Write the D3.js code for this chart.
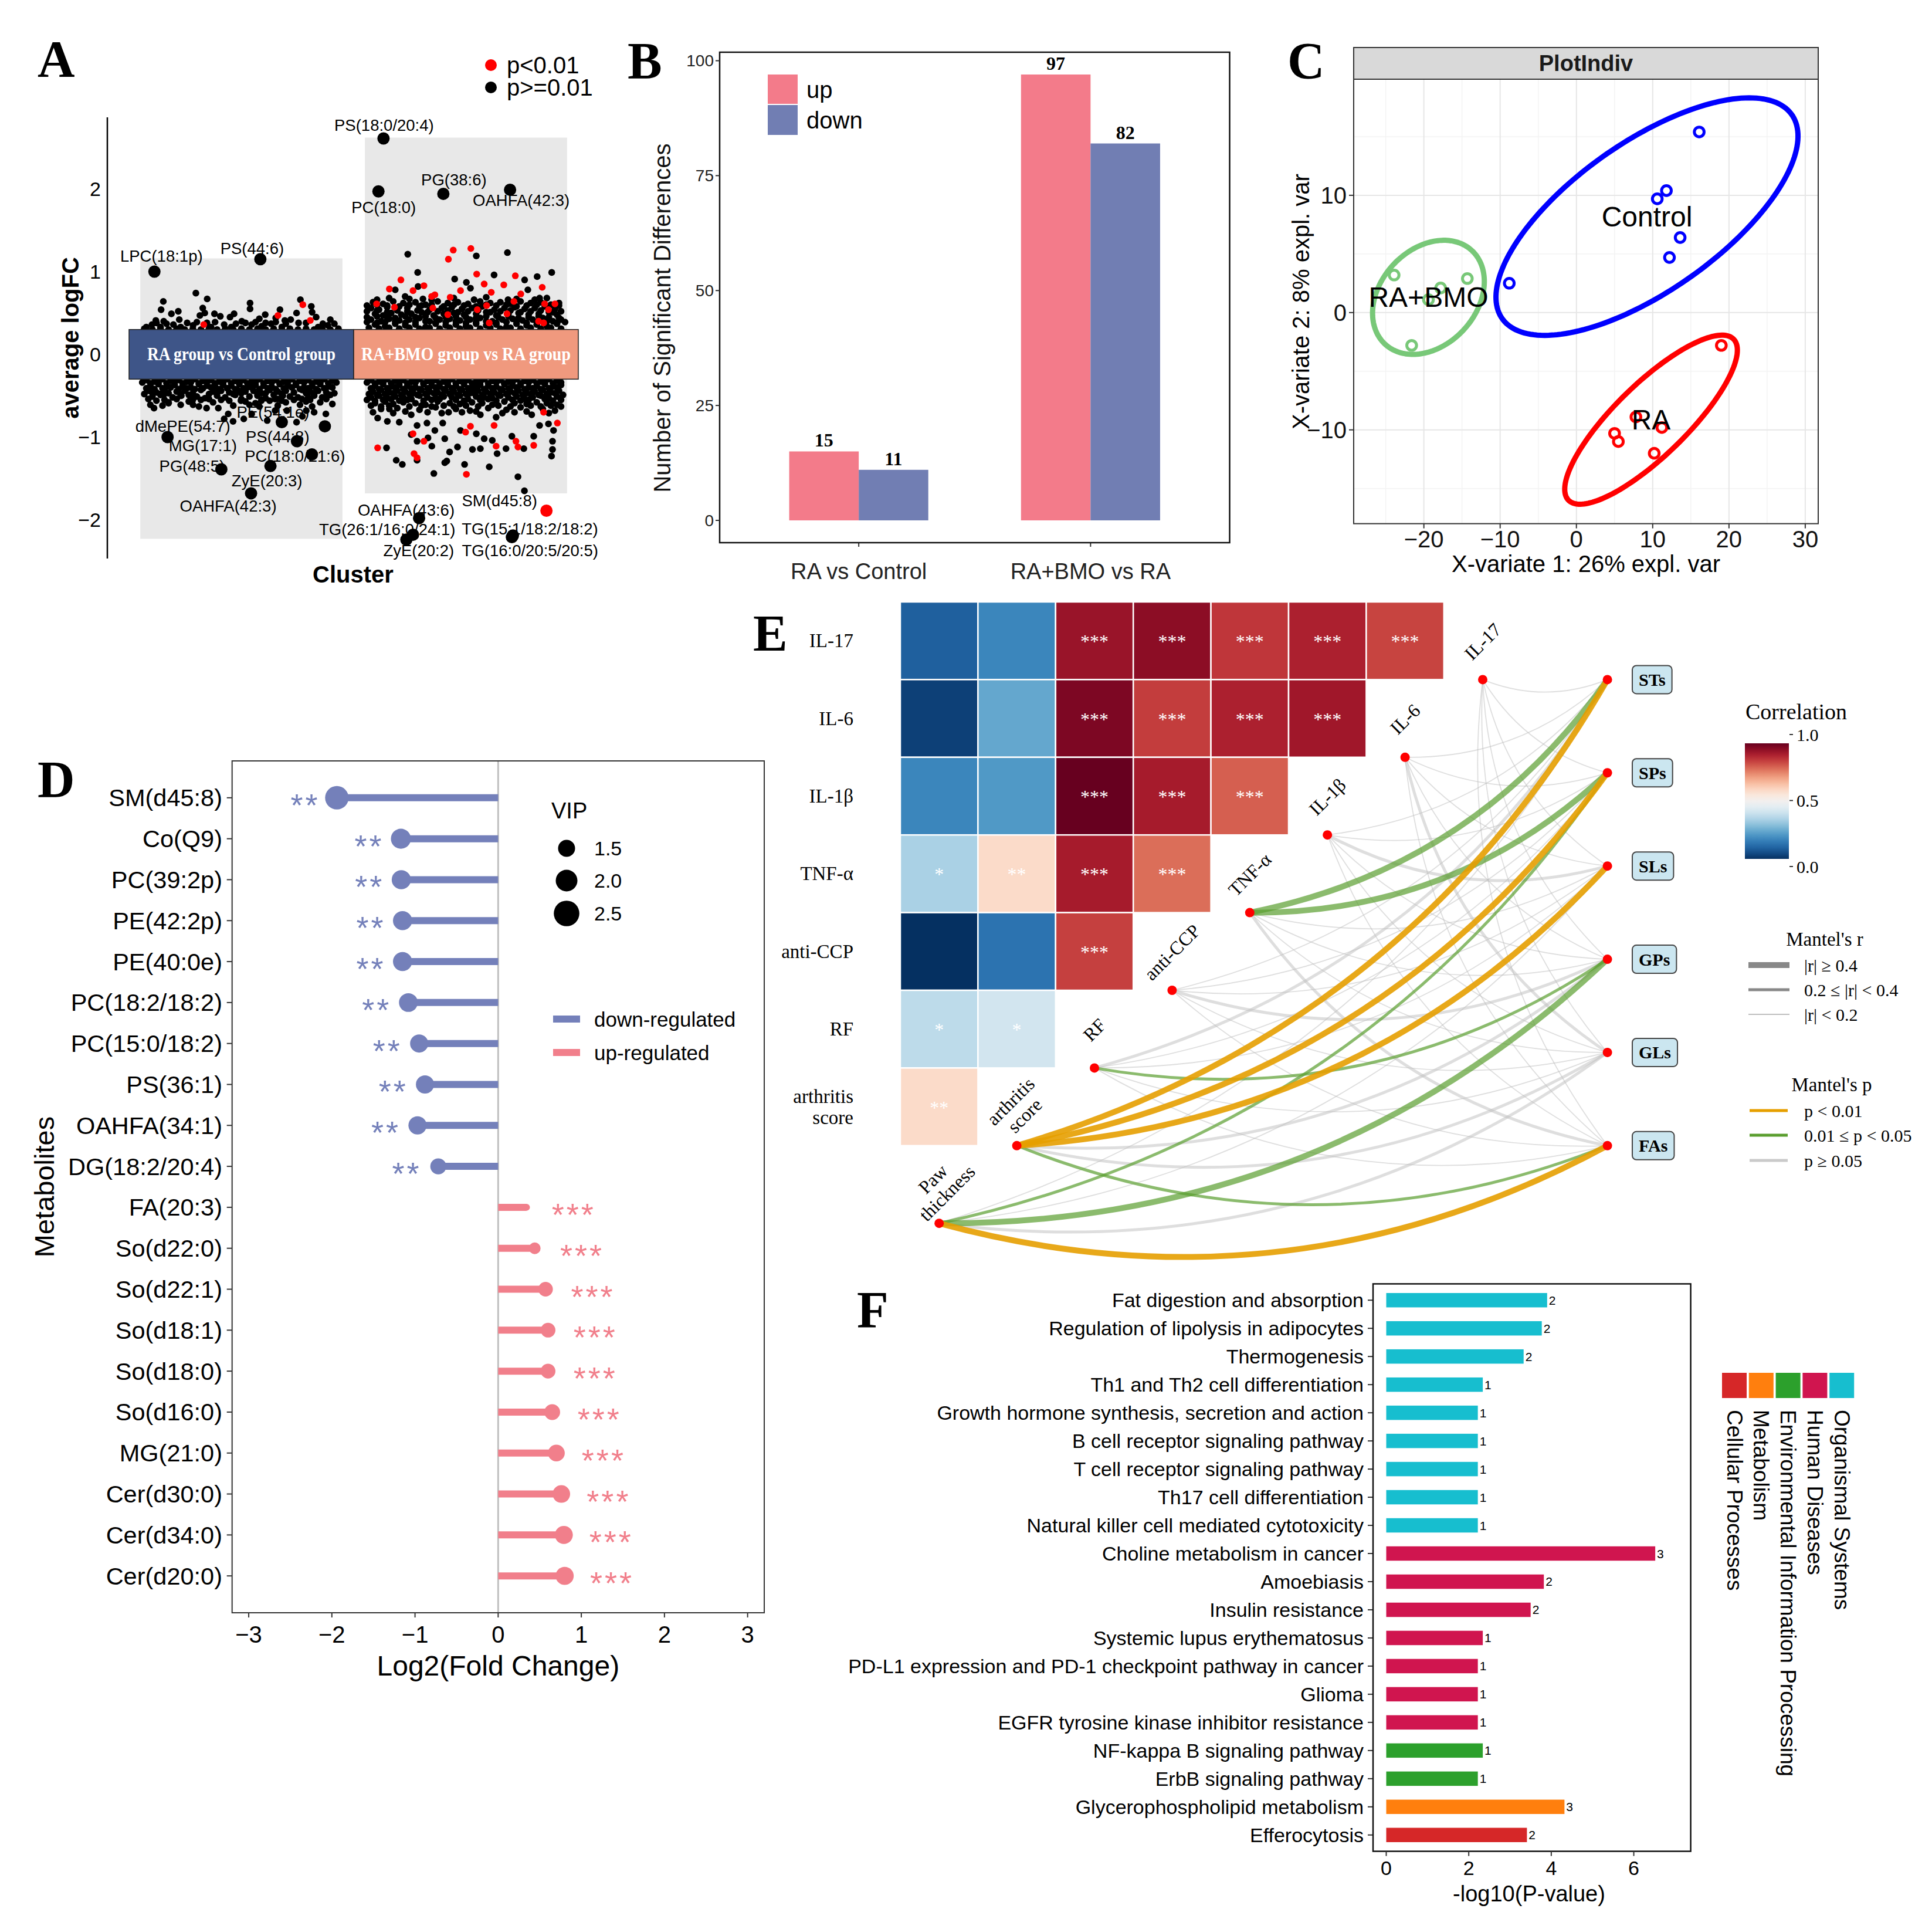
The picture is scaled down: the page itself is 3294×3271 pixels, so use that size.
<!DOCTYPE html>
<html><head><meta charset="utf-8">
<script src="https://cdn.jsdelivr.net/npm/d3@7"></script>
<style>body{margin:0;background:#fff}svg{display:block}</style>
</head><body>
<svg id="fig" width="3294" height="3271"></svg>
<script>
// ===================== DATA =====================
// Panel A
const clusters = ["RA group vs Control group", "RA+BMO group vs RA group"];
const bgTop = [1.16, 2.62];
const bgBottom = [-2.23, -1.68];
// [pct-within-cluster, logFC] pairs
const leftBlack = [27.5,0.74,33.1,0.67,11.4,0.64,10.3,0.54,15.4,0.49,18.8,0.52,19.3,0.42,7.7,0.41,11.6,0.40,30.9,0.56,29.5,0.47,31.9,0.50,36.7,0.49,39.6,0.46,44.4,0.45,46.4,0.49,54.3,0.62,54.3,0.55,58.9,0.43,61.8,0.48,69.1,0.54,71.5,0.41,77.3,0.50,79.2,0.66,84.6,0.58,85.0,0.51,87.0,0.45,90.3,0.37,23.2,0.38,50.2,0.40,47.3,0.37,74.4,0.42,78.3,0.38,64.7,0.37,41.5,0.36,55.1,0.36,5.8,0.36,16.4,0.36,26.1,0.35,92.8,0.35,10,0.33,35,0.33,60,0.34,70,0.33,88,0.33,20,0.33,45,0.33,67,0.44,94,0.42,3,0.33,
2,0.31,6,0.30,10,0.31,14,0.30,18,0.31,22,0.30,26,0.31,30,0.30,34,0.31,38,0.30,42,0.31,46,0.30,50,0.31,54,0.30,58,0.31,62,0.30,66,0.31,70,0.30,74,0.31,78,0.30,82,0.31,86,0.30,90,0.31,94,0.30,98,0.31,
8,0.38,13,0.37,28,0.39,33,0.38,37,0.39,52,0.38,57,0.39,62,0.38,67,0.39,72,0.37,82,0.38,96,0.37,
3,-0.31,7,-0.33,11,-0.30,15,-0.32,19,-0.31,23,-0.33,27,-0.30,31,-0.32,35,-0.31,39,-0.33,43,-0.30,47,-0.32,51,-0.31,55,-0.33,59,-0.30,63,-0.32,67,-0.31,71,-0.33,75,-0.30,79,-0.32,83,-0.31,87,-0.33,91,-0.30,95,-0.32,
1,-0.34,5,-0.35,9,-0.34,13,-0.35,17,-0.34,21,-0.35,25,-0.34,29,-0.35,33,-0.34,37,-0.35,41,-0.34,45,-0.35,49,-0.34,53,-0.35,57,-0.34,61,-0.35,65,-0.34,69,-0.35,73,-0.34,77,-0.35,81,-0.34,85,-0.35,89,-0.34,93,-0.35,97,-0.34,
5,-0.38,9,-0.36,13,-0.39,17,-0.37,21,-0.38,25,-0.40,29,-0.36,33,-0.38,37,-0.39,41,-0.37,45,-0.38,49,-0.36,53,-0.40,57,-0.37,61,-0.38,65,-0.39,69,-0.36,73,-0.38,77,-0.37,81,-0.40,85,-0.38,89,-0.36,93,-0.39,
3,-0.41,7,-0.42,11,-0.41,15,-0.40,19,-0.42,23,-0.41,27,-0.42,31,-0.41,35,-0.40,39,-0.42,43,-0.41,47,-0.42,51,-0.41,55,-0.40,59,-0.42,63,-0.41,67,-0.42,71,-0.41,75,-0.40,79,-0.42,83,-0.41,87,-0.42,91,-0.41,95,-0.40,
4,-0.44,8,-0.46,12,-0.43,18,-0.45,22,-0.44,26,-0.47,30,-0.43,36,-0.45,40,-0.44,44,-0.46,48,-0.43,52,-0.45,56,-0.44,60,-0.47,64,-0.43,68,-0.45,72,-0.44,76,-0.46,80,-0.43,84,-0.45,88,-0.44,92,-0.46,
2,-0.48,6,-0.47,10,-0.48,14,-0.47,20,-0.48,24,-0.49,34,-0.48,38,-0.47,46,-0.48,50,-0.47,58,-0.48,62,-0.47,70,-0.48,82,-0.47,86,-0.48,96,-0.47,
6,-0.51,10,-0.49,16,-0.52,20,-0.50,28,-0.51,32,-0.53,38,-0.50,42,-0.52,47,-0.49,54,-0.51,58,-0.50,62,-0.53,66,-0.49,74,-0.51,78,-0.52,86,-0.50,90,-0.52,94,-0.49,
4,-0.54,12,-0.55,18,-0.54,26,-0.55,34,-0.54,40,-0.55,50,-0.54,60,-0.55,68,-0.54,70,-0.56,80,-0.54,84,-0.55,92,-0.54,
8,-0.56,14,-0.58,24,-0.57,30,-0.55,36,-0.58,44,-0.56,52,-0.57,57,-0.59,64,-0.56,72,-0.58,76,-0.55,82,-0.57,89,-0.58,
5,-0.61,11,-0.62,20,-0.61,29,-0.63,46,-0.62,54,-0.61,68,-0.62,79,-0.61,85,-0.63,95,-0.60,
6.8,-0.65,14.0,-0.59,20.3,-0.50,25.1,-0.53,26.1,-0.61,32.8,-0.65,38.6,-0.65,43.5,-0.72,41.5,-0.78,45.9,-0.81,51.2,-0.78,55.1,-0.72,58.9,-0.63,62.8,-0.80,66.7,-0.68,72.5,-0.68,77.3,-0.82,80.2,-0.75,82.1,-0.68,86.0,-0.70,91.8,-0.72,92.8,-0.50,83.1,-0.52,70.5,-0.50,49.8,-0.56,11.6,-0.49,59.9,-0.56,66.7,-0.54];
const leftRed = [68.1,0.47,80.4,0.60,84.1,0.41,31.4,0.36];
const rightBlack = [21.2,1.21,55.1,1.19,70.5,1.23,26.1,0.99,92.4,0.99,63.9,0.96,85.2,0.94,44.4,0.91,79.0,0.90,50.2,0.87,52.2,0.80,26.3,0.82,80.6,0.78,15.0,0.78,19.9,0.70,28.7,0.67,86.4,0.68,70.8,0.66,
6,0.66,12,0.68,22,0.67,33,0.66,44,0.68,54,0.66,60,0.69,75,0.67,84,0.66,90,0.68,
4,0.63,9,0.61,14,0.64,19,0.62,25,0.63,30,0.60,36,0.64,41,0.62,46,0.63,51,0.61,57,0.64,62,0.62,67,0.63,72,0.61,77,0.64,82,0.62,87,0.63,92,0.60,96,0.62,
1,0.59,6,0.60,11,0.59,17,0.58,22,0.60,28,0.59,33,0.60,39,0.58,44,0.60,49,0.59,55,0.58,60,0.60,65,0.59,70,0.60,75,0.58,80,0.59,85,0.60,90,0.58,96,0.59,
3,0.56,7,0.54,11,0.57,16,0.55,21,0.56,27,0.58,32,0.54,38,0.56,43,0.57,48,0.55,53,0.56,58,0.58,64,0.54,69,0.56,74,0.57,79,0.55,84,0.56,89,0.58,94,0.55,
1,0.52,6,0.53,11,0.51,16,0.53,21,0.52,26,0.53,31,0.51,36,0.52,41,0.53,46,0.51,51,0.52,56,0.53,62,0.51,67,0.52,72,0.53,77,0.51,82,0.52,87,0.53,93,0.51,97,0.52,
5,0.49,9,0.47,13,0.50,18,0.48,23,0.49,28,0.51,34,0.47,39,0.49,44,0.50,49,0.48,55,0.49,60,0.51,65,0.47,71,0.49,76,0.50,81,0.48,86,0.49,91,0.51,95,0.48,
1,0.45,6,0.46,11,0.45,15,0.44,20,0.46,25,0.45,30,0.46,35,0.44,40,0.45,45,0.46,50,0.45,55,0.44,60,0.46,66,0.45,71,0.46,76,0.44,81,0.45,86,0.46,91,0.45,96,0.44,
3,0.42,8,0.40,12,0.43,17,0.41,22,0.42,27,0.44,32,0.40,37,0.42,42,0.43,47,0.41,52,0.42,57,0.44,63,0.40,68,0.42,73,0.43,78,0.41,83,0.42,88,0.44,93,0.40,97,0.42,
1,0.39,6,0.38,10,0.39,15,0.40,20,0.38,25,0.39,30,0.40,35,0.38,40,0.39,45,0.40,50,0.38,55,0.39,60,0.40,65,0.38,70,0.39,75,0.40,80,0.38,85,0.39,90,0.40,95,0.38,99,0.39,
5,0.36,10,0.34,15,0.37,20,0.35,25,0.36,30,0.33,35,0.37,40,0.35,45,0.36,50,0.34,55,0.37,60,0.35,65,0.36,70,0.33,75,0.37,80,0.35,85,0.36,90,0.34,95,0.37,
2,0.32,7,0.31,12,0.32,17,0.31,22,0.32,27,0.31,32,0.32,37,0.31,42,0.32,47,0.31,52,0.32,57,0.31,62,0.32,67,0.31,72,0.32,77,0.31,82,0.32,87,0.31,92,0.32,97,0.31,
3,-0.31,7,-0.33,11,-0.30,15,-0.32,19,-0.31,23,-0.33,27,-0.30,31,-0.32,35,-0.31,39,-0.33,43,-0.30,47,-0.32,51,-0.31,55,-0.33,59,-0.30,63,-0.32,67,-0.31,71,-0.33,75,-0.30,79,-0.32,83,-0.31,87,-0.33,91,-0.30,95,-0.32,
1,-0.34,5,-0.35,9,-0.34,13,-0.35,17,-0.34,21,-0.35,25,-0.34,29,-0.35,33,-0.34,37,-0.35,41,-0.34,45,-0.35,49,-0.34,53,-0.35,57,-0.34,61,-0.35,65,-0.34,69,-0.35,73,-0.34,77,-0.35,81,-0.34,85,-0.35,89,-0.34,93,-0.35,97,-0.34,
5,-0.38,9,-0.36,13,-0.39,17,-0.37,21,-0.38,25,-0.40,29,-0.36,33,-0.38,37,-0.39,41,-0.37,45,-0.38,49,-0.36,53,-0.40,57,-0.37,61,-0.38,65,-0.39,69,-0.36,73,-0.38,77,-0.37,81,-0.40,85,-0.38,89,-0.36,93,-0.39,97,-0.37,
3,-0.41,7,-0.42,11,-0.41,15,-0.40,19,-0.42,23,-0.41,27,-0.42,31,-0.41,35,-0.40,39,-0.42,43,-0.41,47,-0.42,51,-0.41,55,-0.40,59,-0.42,63,-0.41,67,-0.42,71,-0.41,75,-0.40,79,-0.42,83,-0.41,87,-0.42,91,-0.41,95,-0.40,
4,-0.45,8,-0.43,12,-0.46,16,-0.44,20,-0.45,24,-0.47,28,-0.43,32,-0.45,36,-0.46,40,-0.44,44,-0.45,48,-0.43,52,-0.47,56,-0.44,60,-0.45,64,-0.46,68,-0.43,72,-0.45,76,-0.44,80,-0.47,84,-0.45,88,-0.43,92,-0.46,96,-0.44,
2,-0.48,6,-0.49,10,-0.48,14,-0.47,18,-0.49,22,-0.48,26,-0.49,30,-0.48,34,-0.47,38,-0.49,42,-0.48,46,-0.49,50,-0.48,54,-0.47,58,-0.49,62,-0.48,66,-0.49,70,-0.48,74,-0.47,78,-0.49,82,-0.48,86,-0.49,90,-0.48,94,-0.47,98,-0.49,
3,-0.52,7,-0.50,11,-0.53,15,-0.51,19,-0.52,23,-0.54,27,-0.50,31,-0.52,35,-0.53,39,-0.51,43,-0.52,47,-0.50,51,-0.54,55,-0.51,59,-0.52,63,-0.53,67,-0.50,71,-0.52,75,-0.51,79,-0.54,83,-0.52,87,-0.50,91,-0.53,95,-0.51,
1,-0.55,5,-0.56,9,-0.55,13,-0.54,17,-0.56,21,-0.55,29,-0.56,33,-0.55,37,-0.54,45,-0.55,49,-0.56,57,-0.55,61,-0.54,65,-0.56,73,-0.55,77,-0.56,81,-0.55,89,-0.54,93,-0.56,97,-0.55,
5,-0.59,10,-0.57,14,-0.60,19,-0.58,25,-0.59,30,-0.61,36,-0.57,42,-0.59,47,-0.60,53,-0.58,58,-0.59,63,-0.61,69,-0.57,74,-0.59,80,-0.60,85,-0.58,90,-0.59,95,-0.61,
3,-0.62,8,-0.63,12,-0.62,22,-0.63,28,-0.62,33,-0.63,39,-0.62,44,-0.63,50,-0.62,56,-0.63,66,-0.62,72,-0.63,82,-0.62,87,-0.63,92,-0.62,97,-0.63,
8,-0.66,16,-0.65,27,-0.67,35,-0.64,45,-0.66,52,-0.68,61,-0.65,70,-0.67,77,-0.64,88,-0.66,94,-0.68,
4,-0.70,14,-0.71,20,-0.69,31,-0.70,38,-0.71,48,-0.70,55,-0.69,68,-0.71,74,-0.70,80,-0.69,91,-0.71,
6.3,-0.77,11.1,-0.81,17.0,-0.82,22.9,-0.73,25.8,-0.86,30.7,-0.83,34.6,-0.92,38.5,-0.83,22.9,-0.97,25.8,-1.05,31.2,-1.01,39.5,-1.02,10.7,-1.13,15.5,-1.28,18.5,-1.33,25.8,-1.28,33.1,-1.11,41.9,-1.18,39.5,-1.31,45.8,-1.12,49.3,-1.33,47.3,-0.92,55.1,-0.96,59.0,-1.02,63.0,-1.04,57.1,-1.14,53.2,-1.15,65.4,-1.20,69.8,-1.14,72.7,-0.99,78.6,-1.14,83.5,-0.99,86.4,-0.86,93.3,-0.92,92.8,-1.05,92.8,-1.15,92.3,-1.23,75.7,-1.48,78.9,-1.65,34.1,-1.44,90.8,-0.84,64.9,-0.76,57.1,-0.73,12.1,-0.66,41.4,-0.70,82.5,-0.73,61.5,-1.36,40.5,-1.29];
const rightRed = [43.7,1.26,41.3,1.15,52.4,1.28,55.3,0.97,74.4,0.95,17.8,0.90,68.7,0.84,59.0,0.85,87.7,0.81,12.1,0.79,29.2,0.83,23.8,0.77,62.5,0.75,77.1,0.73,34.6,0.72,33.0,0.70,47.3,0.77,42.2,0.69,5.8,0.61,94.0,0.61,88.9,0.61,90.8,0.54,60.2,0.59,14.6,0.57,33.6,0.56,73.7,0.64,55.6,0.54,41.0,0.48,70.3,0.49,85.9,0.40,88.4,0.38,61.5,0.38,
23.8,-0.96,29.2,-1.05,6.3,-1.13,24.3,-1.20,50.2,-1.45,49.8,-0.94,52.2,-0.87,63.9,-0.86,64.9,-1.11,74.7,-1.05,75.7,-1.12,83.5,-1.10,88.4,-0.70,95.2,-0.83,25.8,-1.25];
const namedLipids = ["LPC(18:1p)","PS(44:6)","dMePE(54:7)","MG(17:1)","PE(54:1e)","PS(44:8)","PC(18:0/21:6)","PG(48:5)","ZyE(20:3)","OAHFA(42:3)",
  "PS(18:0/20:4)","PC(18:0)","PG(38:6)","OAHFA(42:3)","OAHFA(43:6)","TG(26:1/16:0/24:1)","ZyE(20:2)","SM(d45:8)","TG(15:1/18:2/18:2)","TG(16:0/20:5/20:5)"];
const namedCluster = [0,0,0,0,0,0,0,0,0,0,1,1,1,1,1,1,1,1,1,1];
const namedPct = [7.0,59.4,13.5,91.3,70.0,77.5,84.9,40.1,64.4,54.8, 9.2,6.7,38.8,71.8,26.8,23.8,20.5,89.8,73.2,72.7];
const namedLogFC = [1.00,1.15,-1.00,-0.87,-0.82,-1.05,-1.21,-1.39,-1.35,-1.68, 2.61,1.97,1.94,1.99,-1.98,-2.18,-2.24,-1.89,-2.19,-2.21];
const namedSig = [0,0,0,0,0,0,0,0,0,0, 0,0,0,0,0,0,0,1,0,0];

// Panel B
const comparisons = ["RA vs Control", "RA+BMO vs RA"];
const upCounts = [15, 97];
const downCounts = [11, 82];

// Panel C
const groupsC = ["RA+BMO", "Control", "RA"];
const pcaX = [[-23.9,-14.3,-17.8,-19.4,-21.6],[16.1,11.8,10.6,13.6,12.2,-8.8],[19.0,7.8,11.2,5.0,5.5,10.2]];
const pcaY = [[3.2,2.9,2.1,1.1,-2.8],[15.4,10.4,9.7,6.4,4.7,2.5],[-2.8,-8.9,-9.8,-10.3,-11.0,-12.0]];
const ellipseLevel = [2.0, 2.19, 2.2];

// Panel D
const metabolites = ["SM(d45:8)","Co(Q9)","PC(39:2p)","PE(42:2p)","PE(40:0e)","PC(18:2/18:2)","PC(15:0/18:2)","PS(36:1)","OAHFA(34:1)","DG(18:2/20:4)","FA(20:3)","So(d22:0)","So(d22:1)","So(d18:1)","So(d18:0)","So(d16:0)","MG(21:0)","Cer(d30:0)","Cer(d34:0)","Cer(d20:0)"];
const log2FC = [-1.94,-1.17,-1.165,-1.15,-1.15,-1.08,-0.95,-0.88,-0.97,-0.72,0.34,0.44,0.57,0.60,0.60,0.65,0.70,0.76,0.79,0.80];
const vipD = [2.22,1.80,1.71,1.71,1.71,1.67,1.61,1.61,1.61,1.41,0.84,1.08,1.29,1.30,1.30,1.39,1.48,1.55,1.59,1.60];
const sigD = ["**","**","**","**","**","**","**","**","**","**","***","***","***","***","***","***","***","***","***","***"];
const vipLegend = [1.5, 2.0, 2.5];

// Panel E
const envNames = ["Paw thickness","arthritis score","RF","anti-CCP","TNF-α","IL-1β","IL-6","IL-17"];
const rowsE = ["IL-17","IL-6","IL-1β","TNF-α","anti-CCP","RF","arthritis score"];
const corrE = [[0.09,0.17,0.93,0.95,0.86,0.90,0.84],[0.03,0.24,0.97,0.85,0.90,0.92],[0.17,0.21,1.00,0.91,0.80],[0.34,0.59,0.91,0.78],[0.00,0.13,0.845],[0.37,0.41],[0.59]];
const sigE = [["","","***","***","***","***","***"],["","","***","***","***","***"],["","","***","***","***"],["*","**","***","***"],["","","***"],["*","*"],["**"]];
const lipidGroups = ["STs","SPs","SLs","GPs","GLs","FAs"];
const mantelR = [[0.13,0.31,0.12,0.45,0.23,0.47],[0.48,0.46,0.42,0.21,0.24,0.32],[0.22,0.10,0.12,0.30,0.09,0.11],[0.08,0.12,0.10,0.25,0.11,0.09],[0.44,0.42,0.13,0.11,0.10,0.23],[0.09,0.14,0.26,0.10,0.12,0.08],[0.10,0.13,0.09,0.12,0.24,0.11],[0.12,0.10,0.08,0.11,0.14,0.09]];
const mantelP = [[0.35,0.04,0.40,0.02,0.11,0.005],[0.004,0.006,0.008,0.15,0.09,0.03],[0.10,0.50,0.40,0.04,0.60,0.50],[0.60,0.40,0.50,0.08,0.45,0.55],[0.02,0.03,0.35,0.45,0.50,0.10],[0.55,0.30,0.09,0.50,0.40,0.60],[0.50,0.35,0.60,0.40,0.12,0.50],[0.40,0.50,0.60,0.45,0.30,0.55]];

// Panel F
const pathways = ["Fat digestion and absorption","Regulation of lipolysis in adipocytes","Thermogenesis","Th1 and Th2 cell differentiation","Growth hormone synthesis, secretion and action","B cell receptor signaling pathway","T cell receptor signaling pathway","Th17 cell differentiation","Natural killer cell mediated cytotoxicity","Choline metabolism in cancer","Amoebiasis","Insulin resistance","Systemic lupus erythematosus","PD-L1 expression and PD-1 checkpoint pathway in cancer","Glioma","EGFR tyrosine kinase inhibitor resistance","NF-kappa B signaling pathway","ErbB signaling pathway","Glycerophospholipid metabolism","Efferocytosis"];
const negLogP = [3.90,3.77,3.33,2.34,2.22,2.22,2.22,2.22,2.22,6.52,3.82,3.50,2.34,2.22,2.22,2.22,2.34,2.22,4.32,3.41];
const geneCounts = [2,2,2,1,1,1,1,1,1,3,2,2,1,1,1,1,1,1,3,2];
const pathwayClass = ["Organismal Systems","Organismal Systems","Organismal Systems","Organismal Systems","Organismal Systems","Organismal Systems","Organismal Systems","Organismal Systems","Organismal Systems","Human Diseases","Human Diseases","Human Diseases","Human Diseases","Human Diseases","Human Diseases","Human Diseases","Environmental Information Processing","Environmental Information Processing","Metabolism","Cellular Processes"];
const classOrder = ["Cellular Processes","Metabolism","Environmental Information Processing","Human Diseases","Organismal Systems"];

// ===================== DRAWING =====================
const SANS = "'Liberation Sans', Arial, Helvetica, sans-serif";
const SERIF = "'Liberation Serif', 'Times New Roman', serif";
const svg = d3.select("#fig");
svg.append("rect").attr("width",3294).attr("height",3271).attr("fill","#fff");

function T(g, x, y, s, o = {}) {
  const t = g.append("text").attr("x", x).attr("y", y).text(s)
    .attr("font-family", o.ff || SANS).attr("font-size", o.fs || 30).attr("fill", o.fill || "#000");
  if (o.anchor) t.attr("text-anchor", o.anchor);
  if (o.weight) t.attr("font-weight", o.weight);
  if (o.base) t.attr("dominant-baseline", o.base);
  if (o.tr) t.attr("transform", o.tr);
  return t;
}
const pairs = a => d3.range(0, a.length, 2).map(i => [a[i], a[i + 1]]);

// panel letters
[["A",64,130],["B",1070,133],["C",2195,133],["D",64,1358],["E",1284,1109],["F",1461,2262]].forEach(([l,x,y]) =>
  T(svg, x, y, l, {ff: SERIF, fs: 88, weight: "bold"}));

// ---------- Panel A ----------
{
  const g = svg.append("g");
  const xA = d3.scaleBand().domain(clusters).range([220, 986]).padding(0);
  const yA = d3.scaleLinear().domain([-2.468, 2.865]).range([952, 200]);
  const bw = xA.bandwidth(), inner = bw * 0.9;
  const px = (ci, pct) => xA(clusters[ci]) + bw * 0.05 + pct / 100 * inner;
  clusters.forEach((c, i) => {
    g.append("rect").attr("x", xA(c) + bw * 0.05).attr("width", inner)
      .attr("y", yA(bgTop[i])).attr("height", yA(bgBottom[i]) - yA(bgTop[i])).attr("fill", "#e8e8e8");
  });
  const small = [[leftBlack,0,"#000"],[rightBlack,1,"#000"],[leftRed,0,"#ff0000"],[rightRed,1,"#ff0000"]];
  small.forEach(([arr, ci, col]) => {
    g.selectAll(null).data(pairs(arr)).enter().append("circle")
      .attr("cx", d => px(ci, d[0])).attr("cy", d => yA(d[1])).attr("r", 5.8).attr("fill", col);
  });
  namedLipids.forEach((n, i) => {
    g.append("circle").attr("cx", px(namedCluster[i], namedPct[i])).attr("cy", yA(namedLogFC[i]))
      .attr("r", 10.5).attr("fill", namedSig[i] ? "#ff0000" : "#000");
  });
  // band
  const bandCol = ["#3e5588", "#f0997e"];
  const bandLen = [321, 357];
  clusters.forEach((c, i) => {
    g.append("rect").attr("x", xA(c)).attr("width", bw).attr("y", yA(0.3)).attr("height", yA(-0.3) - yA(0.3))
      .attr("fill", bandCol[i]).attr("stroke", "#222").attr("stroke-width", 1.5);
    T(g, xA(c) + bw / 2, yA(0) + 10, c, {ff: SERIF, fs: 31, weight: "bold", fill: "#fff", anchor: "middle"})
      .attr("textLength", bandLen[i]).attr("lengthAdjust", "spacingAndGlyphs");
  });
  // labels (layout offsets in px)
  const labOff = [[12,-26],[-14,-18],[26,-18],[-208,33],[-15,-17],[-33,-8],[-29,3],[-50,-5],[-6,25],[-39,22],
                  [1,-22],[9,27],[18,-24],[19,18],[-22,-14],[-44,-9],[21,19],[-80,-17],[29,-11],[31,23]];
  namedLipids.forEach((n, i) => {
    T(g, px(namedCluster[i], namedPct[i]) + labOff[i][0], yA(namedLogFC[i]) + labOff[i][1], n,
      {fs: 27.5, anchor: "middle", base: "central"});
  });
  // axis
  g.append("line").attr("x1", 183).attr("x2", 183).attr("y1", 200).attr("y2", 952).attr("stroke", "#000").attr("stroke-width", 2.5);
  [-2, -1, 0, 1, 2].forEach(v => T(g, 172, yA(v), v < 0 ? "\u2212" + (-v) : String(v), {fs: 34, anchor: "end", base: "central"}));
  T(g, 0, 0, "average logFC", {fs: 40, weight: "bold", anchor: "middle", base: "central", tr: "translate(120,576) rotate(-90)"});
  T(g, 602, 993, "Cluster", {fs: 40, weight: "bold", anchor: "middle"});
  // legend
  g.append("circle").attr("cx", 837).attr("cy", 111).attr("r", 10).attr("fill", "#ff0000");
  g.append("circle").attr("cx", 837).attr("cy", 149).attr("r", 10).attr("fill", "#000");
  T(g, 864, 111, "p<0.01", {fs: 40, base: "central"});
  T(g, 864, 149, "p>=0.01", {fs: 40, base: "central"});
}

// ---------- Panel B ----------
{
  const g = svg.append("g");
  const L = 1227, R = 2096.5, Tp = 89, B = 925;
  const xB = d3.scalePoint().domain(comparisons).range([L, R]).padding(0.6);
  const yB = d3.scaleLinear().domain([-4.85, 101.85]).range([B, Tp]);
  const bw = xB.step() * 0.3;
  const upC = "#f37b8a", dnC = "#717eb3";
  comparisons.forEach((c, i) => {
    g.append("rect").attr("x", xB(c) - bw).attr("width", bw).attr("y", yB(upCounts[i])).attr("height", yB(0) - yB(upCounts[i])).attr("fill", upC);
    g.append("rect").attr("x", xB(c)).attr("width", bw).attr("y", yB(downCounts[i])).attr("height", yB(0) - yB(downCounts[i])).attr("fill", dnC);
    T(g, xB(c) - bw / 2, yB(upCounts[i]) - 8, String(upCounts[i]), {ff: SERIF, fs: 32, weight: "bold", anchor: "middle"});
    T(g, xB(c) + bw / 2, yB(downCounts[i]) - 8, String(downCounts[i]), {ff: SERIF, fs: 32, weight: "bold", anchor: "middle"});
    g.append("line").attr("x1", xB(c)).attr("x2", xB(c)).attr("y1", B).attr("y2", B + 7).attr("stroke", "#333").attr("stroke-width", 2);
    T(g, xB(c), 987, c, {fs: 38, anchor: "middle", fill: "#222"});
  });
  g.append("rect").attr("x", L).attr("y", Tp).attr("width", R - L).attr("height", B - Tp).attr("fill", "none").attr("stroke", "#111").attr("stroke-width", 2.5);
  [0, 25, 50, 75, 100].forEach(v => {
    g.append("line").attr("x1", L - 7).attr("x2", L).attr("y1", yB(v)).attr("y2", yB(v)).attr("stroke", "#333").attr("stroke-width", 2);
    T(g, L - 10, yB(v), String(v), {fs: 28, anchor: "end", base: "central", fill: "#222"});
  });
  T(g, 0, 0, "Number of Significant Differences", {fs: 40, anchor: "middle", base: "central", tr: "translate(1129,542) rotate(-90)", fill: "#111"});
  g.append("rect").attr("x", 1309).attr("y", 127).attr("width", 51).attr("height", 50).attr("fill", upC);
  g.append("rect").attr("x", 1309).attr("y", 179).attr("width", 51).attr("height", 51).attr("fill", dnC);
  T(g, 1375, 153, "up", {fs: 40, base: "central"});
  T(g, 1375, 205, "down", {fs: 40, base: "central"});
}

// ---------- Panel C ----------
{
  const g = svg.append("g");
  const L = 2308, R = 3100, Tp = 135, B = 892.6;
  const xC = d3.scaleLinear().domain([-29.2, 31.7]).range([L, R]);
  const yC = d3.scaleLinear().domain([-18.0, 19.9]).range([B, Tp]);
  [-25, -15, -5, 5, 15, 25].forEach(v => g.append("line").attr("x1", xC(v)).attr("x2", xC(v)).attr("y1", Tp).attr("y2", B).attr("stroke", "#f3f3f3").attr("stroke-width", 1.5));
  [-15, -5, 5, 15].forEach(v => g.append("line").attr("y1", yC(v)).attr("y2", yC(v)).attr("x1", L).attr("x2", R).attr("stroke", "#f3f3f3").attr("stroke-width", 1.5));
  [-20, -10, 0, 10, 20, 30].forEach(v => g.append("line").attr("x1", xC(v)).attr("x2", xC(v)).attr("y1", Tp).attr("y2", B).attr("stroke", "#e6e6e6").attr("stroke-width", 2));
  [-10, 0, 10].forEach(v => g.append("line").attr("y1", yC(v)).attr("y2", yC(v)).attr("x1", L).attr("x2", R).attr("stroke", "#e6e6e6").attr("stroke-width", 2));
  const cols = ["#78c878", "#0000ff", "#ff0000"];
  const line = d3.line().x(d => xC(d[0])).y(d => yC(d[1])).curve(d3.curveLinearClosed);
  groupsC.forEach((grp, gi) => {
    const pts = pcaX[gi].map((x, i) => [x, pcaY[gi][i]]);
    const n = pts.length;
    const mx = d3.mean(pts, p => p[0]), my = d3.mean(pts, p => p[1]);
    let sxx = 0, syy = 0, sxy = 0;
    pts.forEach(p => { const dx = p[0] - mx, dy = p[1] - my; sxx += dx * dx; syy += dy * dy; sxy += dx * dy; });
    sxx /= (n - 1); syy /= (n - 1); sxy /= (n - 1);
    const tr = sxx + syy, det = sxx * syy - sxy * sxy, disc = Math.sqrt(Math.max(0, tr * tr / 4 - det));
    const l1 = tr / 2 + disc, l2 = tr / 2 - disc;
    const th = Math.atan2(l1 - sxx, sxy);
    const a = ellipseLevel[gi] * Math.sqrt(l1), b = ellipseLevel[gi] * Math.sqrt(Math.max(l2, 0));
    const ell = d3.range(0, 360, 2).map(deg => {
      const t = deg * Math.PI / 180, ex = a * Math.cos(t), ey = b * Math.sin(t);
      return [mx + ex * Math.cos(th) - ey * Math.sin(th), my + ex * Math.sin(th) + ey * Math.cos(th)];
    });
    g.append("path").attr("d", line(ell)).attr("fill", "none").attr("stroke", cols[gi]).attr("stroke-width", 9);
    g.selectAll(null).data(pts).enter().append("circle").attr("cx", d => xC(d[0])).attr("cy", d => yC(d[1]))
      .attr("r", 8.3).attr("fill", "none").attr("stroke", cols[gi]).attr("stroke-width", 5);
    g.append("text").datum([mx, my]).attr("x", d => xC(d[0])).attr("y", d => yC(d[1])).text(grp)
      .attr("font-family", SANS).attr("font-size", 48).attr("text-anchor", "middle").attr("dominant-baseline", "central");
  });
  g.append("rect").attr("x", L).attr("y", Tp).attr("width", R - L).attr("height", B - Tp).attr("fill", "none").attr("stroke", "#333").attr("stroke-width", 2);
  g.append("rect").attr("x", L).attr("y", 81).attr("width", R - L).attr("height", Tp - 81).attr("fill", "#d9d9d9").attr("stroke", "#333").attr("stroke-width", 2);
  T(g, (L + R) / 2, 108, "PlotIndiv", {fs: 38, weight: "bold", anchor: "middle", base: "central", fill: "#1a1a1a"});
  [-20, -10, 0, 10, 20, 30].forEach(v => {
    g.append("line").attr("x1", xC(v)).attr("x2", xC(v)).attr("y1", B).attr("y2", B + 8).attr("stroke", "#333").attr("stroke-width", 2);
    T(g, xC(v), 933, v < 0 ? "\u2212" + (-v) : String(v), {fs: 40, anchor: "middle", fill: "#111"});
  });
  [-10, 0, 10].forEach(v => {
    g.append("line").attr("x1", L - 8).attr("x2", L).attr("y1", yC(v)).attr("y2", yC(v)).attr("stroke", "#333").attr("stroke-width", 2);
    T(g, L - 12, yC(v), v < 0 ? "\u2212" + (-v) : String(v), {fs: 40, anchor: "end", base: "central", fill: "#111"});
  });
  T(g, (L + R) / 2, 975, "X-variate 1: 26% expl. var", {fs: 40, anchor: "middle"});
  T(g, 0, 0, "X-variate 2: 8% expl. var", {fs: 40, anchor: "middle", base: "central", tr: "translate(2218,514) rotate(-90)"});
}

// ---------- Panel D ----------
{
  const g = svg.append("g");
  const L = 395.7, R = 1303, Tp = 1297, B = 2749;
  const xD = d3.scaleLinear().domain([-3.2, 3.2]).range([L, R]);
  const yD = d3.scalePoint().domain(metabolites).range([Tp, B]).padding(0.9);
  const rD = d3.scaleRadial().domain([1.5, 2.5]).range([14.5, 21.8]);
  const dn = "#7480ba", up = "#f17f8b";
  g.append("line").attr("x1", xD(0)).attr("x2", xD(0)).attr("y1", Tp).attr("y2", B).attr("stroke", "#c0c0c0").attr("stroke-width", 3);
  metabolites.forEach((m, i) => {
    const v = log2FC[i], y = yD(m), col = v < 0 ? dn : up;
    g.append("line").attr("x1", xD(0)).attr("x2", xD(v)).attr("y1", y).attr("y2", y).attr("stroke", col).attr("stroke-width", 12);
    g.append("circle").attr("cx", xD(v)).attr("cy", y).attr("r", rD(vipD[i])).attr("fill", col);
    T(g, xD(v + (v < 0 ? -0.38 : 0.57)), y + 31, sigD[i], {fs: 54, anchor: "middle", fill: col}).attr("letter-spacing", 4);
    g.append("line").attr("x1", L - 9).attr("x2", L).attr("y1", y).attr("y2", y).attr("stroke", "#333").attr("stroke-width", 2);
    T(g, 379, y, m, {fs: 41.5, anchor: "end", base: "central"});
  });
  g.append("rect").attr("x", L).attr("y", Tp).attr("width", R - L).attr("height", B - Tp).attr("fill", "none").attr("stroke", "#333").attr("stroke-width", 2);
  [-3, -2, -1, 0, 1, 2, 3].forEach(v => {
    g.append("line").attr("x1", xD(v)).attr("x2", xD(v)).attr("y1", B).attr("y2", B + 8).attr("stroke", "#333").attr("stroke-width", 2);
    T(g, xD(v), 2800, v < 0 ? "\u2212" + (-v) : String(v), {fs: 40, anchor: "middle"});
  });
  T(g, xD(0), 2856, "Log2(Fold Change)", {fs: 48, anchor: "middle"});
  T(g, 0, 0, "Metabolites", {fs: 47, anchor: "middle", base: "central", tr: "translate(75,2023) rotate(-90)"});
  T(g, 940, 1395, "VIP", {fs: 38});
  vipLegend.forEach((v, i) => {
    const y = [1446, 1501, 1557][i];
    g.append("circle").attr("cx", 966).attr("cy", y).attr("r", rD(v)).attr("fill", "#000");
    T(g, 1013, y, v.toFixed(1), {fs: 34, base: "central"});
  });
  [["down-regulated", dn, 1737], ["up-regulated", up, 1794]].forEach(([s, c, y]) => {
    g.append("line").attr("x1", 943).attr("x2", 989).attr("y1", y).attr("y2", y).attr("stroke", c).attr("stroke-width", 12);
    T(g, 1013, y, s, {fs: 35, base: "central"});
  });
}

// ---------- Panel E ----------
{
  const g = svg.append("g");
  const x0 = 1535, y0 = 1026, cs = 132.4;
  const colsE = envNames.slice(0, 7);
  const xE = d3.scaleBand().domain(colsE).range([x0, x0 + 7 * cs]);
  const yE = d3.scaleBand().domain(rowsE).range([y0, y0 + 7 * cs]);
  const col = v => d3.interpolateRdBu(1 - v);
  const gEdges = g.append("g");
  rowsE.forEach((r, ri) => {
    corrE[ri].forEach((v, ci) => {
      const cx = xE(colsE[ci]), cy = yE(r);
      g.append("rect").attr("x", cx).attr("y", cy).attr("width", cs).attr("height", cs).attr("fill", col(v)).attr("stroke", "#fff").attr("stroke-width", 2.5);
      if (sigE[ri][ci]) T(g, cx + cs / 2, cy + cs / 2 + 12, sigE[ri][ci], {ff: SERIF, fs: 32, anchor: "middle", fill: "#fff"});
    });
    if (r.includes(" ")) {
      const [a, b] = r.split(" ");
      T(g, 1455, yE(r) + cs / 2 - 18, a, {ff: SERIF, fs: 33, anchor: "end", base: "central"});
      T(g, 1455, yE(r) + cs / 2 + 18, b, {ff: SERIF, fs: 33, anchor: "end", base: "central"});
    } else {
      T(g, 1455, yE(r) + cs / 2, r, {ff: SERIF, fs: 33, anchor: "end", base: "central"});
    }
  });
  const envPos = envNames.map((n, k) => [x0 + (k + 0.5) * cs, y0 + (8 - k) * cs]);
  const yG = d3.scalePoint().domain(lipidGroups).range([y0 + cs, y0 + 7 * cs]);
  const gx = 2740.6;
  const edges = [];
  envNames.forEach((n, k) => lipidGroups.forEach((lg, j) => edges.push({k, j, r: mantelR[k][j], p: mantelP[k][j]})));
  const pClass = p => p < 0.01 ? 2 : (p < 0.05 ? 1 : 0);
  edges.sort((a, b) => pClass(a.p) - pClass(b.p) || a.r - b.r);
  const eCol = ["#bdbdbd", "#5a9e2f", "#e69f00"], eOp = [0.5, 0.7, 0.9];
  const eW = r => r >= 0.4 ? 10 : (r >= 0.2 ? 5 : 1.8);
  edges.forEach(e => {
    const [ax, ay] = envPos[e.k], bx = gx, by = yG(lipidGroups[e.j]);
    const dx = bx - ax, dy = by - ay, mx = (ax + bx) / 2, my = (ay + by) / 2;
    const cx = mx - 0.2 * dy, cy = my + 0.2 * dx;
    const pc = pClass(e.p);
    gEdges.append("path").attr("d", `M${ax},${ay}Q${cx},${cy} ${bx},${by}`).attr("fill", "none")
      .attr("stroke", eCol[pc]).attr("stroke-opacity", eOp[pc]).attr("stroke-width", eW(e.r));
  });
  envPos.forEach(([x, y], k) => {
    g.append("circle").attr("cx", x).attr("cy", y).attr("r", 8).attr("fill", "#ff0000");
    const n = envNames[k];
    const t = T(g, 0, 0, "", {ff: SERIF, fs: 32, anchor: "middle", tr: `translate(${x},${y - 65}) rotate(-45)`});
    if (n.includes(" ")) {
      const [a, b] = n.split(" ");
      t.append("tspan").attr("x", 0).attr("y", -4).text(a);
      t.append("tspan").attr("x", 0).attr("y", 30).text(b);
    } else {
      t.attr("y", 11).text(n);
    }
  });
  lipidGroups.forEach(lg => {
    const y = yG(lg);
    g.append("circle").attr("cx", gx).attr("cy", y).attr("r", 8).attr("fill", "#ff0000");
    const t = T(g, 0, y, lg, {ff: SERIF, fs: 30, weight: "bold", base: "central"});
    const w = t.node().getComputedTextLength();
    t.attr("x", 2783 + 11);
    g.insert("rect", () => t.node()).attr("x", 2783).attr("y", y - 24).attr("width", w + 22).attr("height", 48)
      .attr("rx", 7).attr("fill", "#cbe6f0").attr("stroke", "#444").attr("stroke-width", 2);
  });
  const defs = svg.append("defs");
  const grad = defs.append("linearGradient").attr("id", "rdbu").attr("x1", 0).attr("x2", 0).attr("y1", 0).attr("y2", 1);
  d3.range(0, 1.0001, 0.05).forEach(t => grad.append("stop").attr("offset", t).attr("stop-color", col(1 - t)));
  T(g, 2976, 1226, "Correlation", {ff: SERIF, fs: 38});
  g.append("rect").attr("x", 2975).attr("y", 1267).attr("width", 75).attr("height", 197).attr("fill", "url(#rdbu)");
  const yCb = d3.scaleLinear().domain([0, 1]).range([1477, 1252]);
  [0, 0.5, 1].forEach(v => {
    g.append("line").attr("x1", 3051).attr("x2", 3057).attr("y1", yCb(v)).attr("y2", yCb(v)).attr("stroke", "#333").attr("stroke-width", 2);
    T(g, 3063, yCb(v), v.toFixed(1), {ff: SERIF, fs: 30, base: "central"});
  });
  T(g, 3111, 1612, "Mantel's r", {ff: SERIF, fs: 33, anchor: "middle"});
  [["|r| \u2265 0.4", 10, 1645, "#888"], ["0.2 \u2264 |r| < 0.4", 5, 1687, "#888"], ["|r| < 0.2", 1.5, 1729, "#aaa"]].forEach(([s, w, y, c]) => {
    g.append("line").attr("x1", 2981).attr("x2", 3051).attr("y1", y).attr("y2", y).attr("stroke", c).attr("stroke-width", w);
    T(g, 3076, y, s, {ff: SERIF, fs: 30, base: "central"});
  });
  T(g, 3123, 1860, "Mantel's p", {ff: SERIF, fs: 33, anchor: "middle"});
  [["p < 0.01", 1893, 2], ["0.01 \u2264 p < 0.05", 1935, 1], ["p \u2265 0.05", 1978, 0]].forEach(([s, y, c]) => {
    g.append("line").attr("x1", 2983).attr("x2", 3048).attr("y1", y).attr("y2", y).attr("stroke", eCol[c]).attr("stroke-opacity", c === 0 ? 0.8 : 1).attr("stroke-width", 5);
    T(g, 3076, y, s, {ff: SERIF, fs: 30, base: "central"});
  });
}

// ---------- Panel F ----------
{
  const g = svg.append("g");
  const L = 2341, R = 2882.6, Tp = 2188.4, B = 3155.6;
  const xF = d3.scaleLinear().domain([-0.32, 7.38]).range([L, R]);
  const yF = d3.scalePoint().domain(pathways).range([Tp, B]).padding(0.58);
  const cCol = d3.scaleOrdinal().domain(classOrder).range(["#d62728", "#ff7f0e", "#2ca02c", "#d0154f", "#17becf"]);
  const bh = yF.step() * 0.51;
  pathways.forEach((p, i) => {
    const y = yF(p);
    g.append("rect").attr("x", xF(0)).attr("y", y - bh / 2).attr("width", xF(negLogP[i]) - xF(0)).attr("height", bh).attr("fill", cCol(pathwayClass[i]));
    T(g, xF(negLogP[i]) + 3, y, String(geneCounts[i]), {fs: 21, base: "central"});
    g.append("line").attr("x1", L - 9).attr("x2", L).attr("y1", y).attr("y2", y).attr("stroke", "#333").attr("stroke-width", 2);
    T(g, 2325, y, p, {fs: 34, anchor: "end", base: "central"});
  });
  g.append("rect").attr("x", L).attr("y", Tp).attr("width", R - L).attr("height", B - Tp).attr("fill", "none").attr("stroke", "#111").attr("stroke-width", 2.5);
  [0, 2, 4, 6].forEach(v => {
    g.append("line").attr("x1", xF(v)).attr("x2", xF(v)).attr("y1", B).attr("y2", B + 8).attr("stroke", "#333").attr("stroke-width", 2);
    T(g, xF(v), 3196, String(v), {fs: 34, anchor: "middle"});
  });
  T(g, 2607, 3241, "-log10(P-value)", {fs: 38, anchor: "middle"});
  classOrder.forEach((c, i) => {
    const x = 2936 + i * 45.8;
    g.append("rect").attr("x", x).attr("y", 2340).attr("width", 42).attr("height", 43).attr("fill", cCol(c));
    T(g, 0, 0, c, {fs: 37, base: "central", tr: `translate(${x + 21},2403) rotate(90)`});
  });
}
</script>
</body></html>
